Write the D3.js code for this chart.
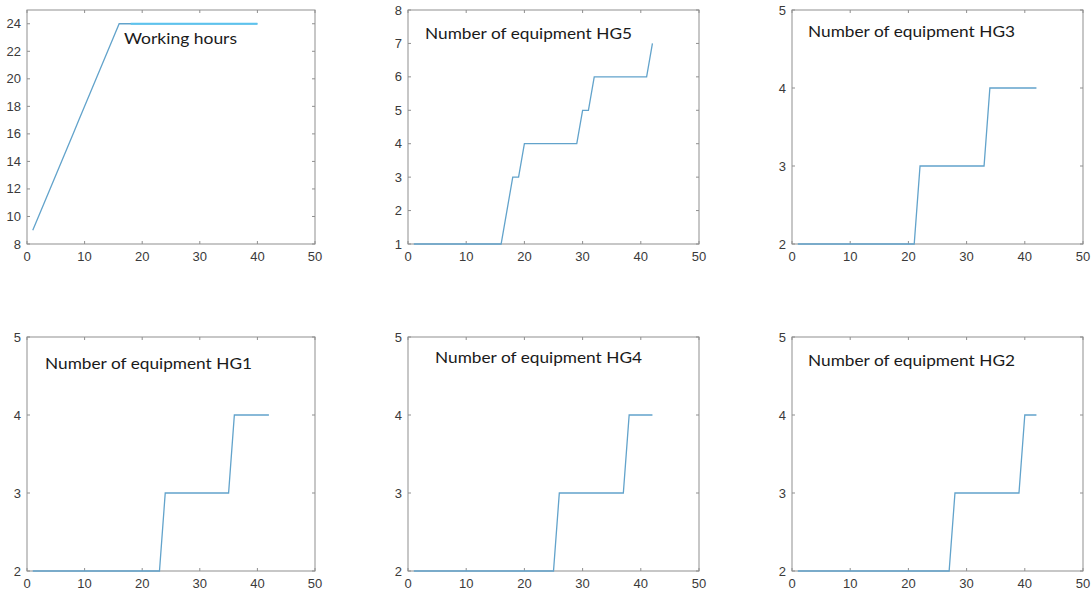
<!DOCTYPE html>
<html>
<head>
<meta charset="utf-8">
<script src="https://cdnjs.cloudflare.com/ajax/libs/d3/7.8.5/d3.min.js"></script>
<style>
  body { margin: 0; background: #fff; }
  svg { display: block; }
</style>
</head>
<body>
<script>
// ---- data (x = step 1..n) ----
var hours = [9,10,11,12,13,14,15,16,17,18,19,20,21,22,23,24,
             24,24,24,24,24,24,24,24,24,24,24,24,24,24,24,24,24,24,24,24,24,24,24,24];
var hoursHighlight = [[18,24],[40,24]];   // bright overlay on the flat part

var hg5 = [1,1,1,1,1,1,1,1,1,1,1,1,1,1,1,1, 2,3,3, 4,4,4,4,4,4,4,4,4,4, 5,5,
           6,6,6,6,6,6,6,6,6,6, 7];
var hg3 = [2,2,2,2,2,2,2,2,2,2,2,2,2,2,2,2,2,2,2,2,2, 3,3,3,3,3,3,3,3,3,3,3,3, 4,4,4,4,4,4,4,4,4];
var hg1 = [2,2,2,2,2,2,2,2,2,2,2,2,2,2,2,2,2,2,2,2,2,2,2, 3,3,3,3,3,3,3,3,3,3,3,3, 4,4,4,4,4,4,4];
var hg4 = [2,2,2,2,2,2,2,2,2,2,2,2,2,2,2,2,2,2,2,2,2,2,2,2,2, 3,3,3,3,3,3,3,3,3,3,3,3, 4,4,4,4,4];
var hg2 = [2,2,2,2,2,2,2,2,2,2,2,2,2,2,2,2,2,2,2,2,2,2,2,2,2,2,2, 3,3,3,3,3,3,3,3,3,3,3,3, 4,4,4];

var xTicks = [0,10,20,30,40,50];
var yTicksHours = [8,10,12,14,16,18,20,22,24];
var yTicksHG5 = [1,2,3,4,5,6,7,8];
var yTicksHG = [2,3,4,5];

var titles = ["Working hours", "Number of equipment HG5", "Number of equipment HG3",
              "Number of equipment HG1", "Number of equipment HG4", "Number of equipment HG2"];

// ---- layout ----
var W = 1091, H = 592;
var cols = [[27, 315], [408, 699], [792, 1083]];
var rows = [[10, 244], [337, 571]];

var panels = [
  { values: hours, yDomain: [8, 25], yTicks: yTicksHours, title: titles[0], tx: 97, tb: 34, tw: 113, extra: hoursHighlight },
  { values: hg5,   yDomain: [1, 8],  yTicks: yTicksHG5,   title: titles[1], tx: 17, tb: 29, tw: 207 },
  { values: hg3,   yDomain: [2, 5],  yTicks: yTicksHG,    title: titles[2], tx: 16, tb: 27, tw: 207 },
  { values: hg1,   yDomain: [2, 5],  yTicks: yTicksHG,    title: titles[3], tx: 18, tb: 32, tw: 207 },
  { values: hg4,   yDomain: [2, 5],  yTicks: yTicksHG,    title: titles[4], tx: 27, tb: 26, tw: 207 },
  { values: hg2,   yDomain: [2, 5],  yTicks: yTicksHG,    title: titles[5], tx: 16, tb: 29, tw: 207 }
];

var lineColor = "#62a3cb";
var boxColor = "#8f8f8f";
var labelColor = "#3a3a3a";

var svg = d3.select("body").append("svg")
    .attr("width", W)
    .attr("height", H)
    .style("font-family", "'Liberation Sans', Arial, sans-serif");

panels.forEach(function(p, i) {
  var c = cols[i % 3], r = rows[Math.floor(i / 3)];
  var w = c[1] - c[0], h = r[1] - r[0];

  var x = d3.scaleLinear().domain([0, 50]).range([0, w]);
  var y = d3.scaleLinear().domain(p.yDomain).range([h, 0]);

  var g = svg.append("g").attr("transform", "translate(" + c[0] + "," + r[0] + ")");

  // box
  g.append("rect")
    .attr("width", w)
    .attr("height", h)
    .style("fill", "none")
    .style("stroke", boxColor)
    .style("stroke-width", 1);

  // inward ticks on all four sides
  var tk = 3;
  g.selectAll(".xt").data(xTicks).enter().append("path")
    .attr("d", function(d) { var px = x(d); return "M" + px + "," + h + "v" + (-tk) + "M" + px + ",0v" + tk; })
    .style("stroke", boxColor);
  g.selectAll(".yt").data(p.yTicks).enter().append("path")
    .attr("d", function(d) { var py = y(d); return "M0," + py + "h" + tk + "M" + w + "," + py + "h" + (-tk); })
    .style("stroke", boxColor);

  // tick labels
  g.selectAll(".xl").data(xTicks).enter().append("text")
    .attr("x", function(d) { return x(d); })
    .attr("y", h + 17)
    .attr("text-anchor", "middle")
    .style("font-size", "13px")
    .style("fill", labelColor)
    .text(function(d) { return d; });
  g.selectAll(".yl").data(p.yTicks).enter().append("text")
    .attr("x", -6)
    .attr("y", function(d) { return y(d) + 4.5; })
    .attr("text-anchor", "end")
    .style("font-size", "13px")
    .style("fill", labelColor)
    .text(function(d) { return d; });

  // series
  var line = d3.line()
    .x(function(d) { return x(d[0]); })
    .y(function(d) { return y(d[1]); });

  var pts = p.values.map(function(v, k) { return [k + 1, v]; });
  g.append("path")
    .datum(pts)
    .attr("d", line)
    .style("fill", "none")
    .style("stroke", lineColor)
    .style("stroke-width", 1.3);

  if (p.extra) {
    g.append("path")
      .datum(p.extra)
      .attr("d", line)
      .style("fill", "none")
      .style("stroke", "#5cc3ee")
      .style("stroke-width", 1.8);
  }

  // in-plot label
  g.append("text")
    .attr("x", p.tx)
    .attr("y", p.tb)
    .attr("textLength", p.tw)
    .attr("lengthAdjust", "spacingAndGlyphs")
    .style("font-family", "Lato, 'Open Sans', sans-serif")
    .style("font-size", "15px")
    .style("fill", "#1a1a1a")
    .text(p.title);
});
</script>
</body>
</html>
